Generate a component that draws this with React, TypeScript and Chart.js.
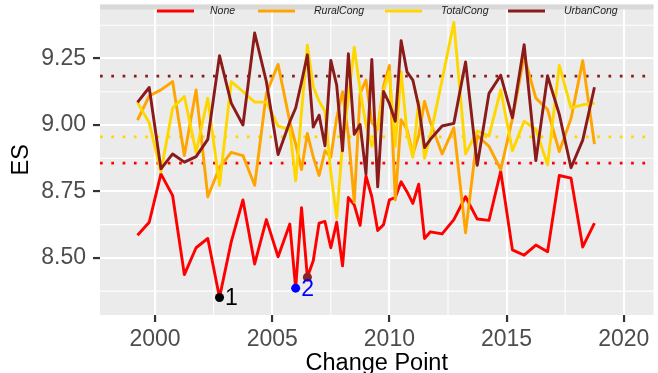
import React, { useEffect, useRef } from "react";
import { Chart, registerables } from "chart.js";

Chart.register(...registerables);

// ---------- data ----------
const xYears = [
  1999.25, 1999.75, 2000.25, 2000.75, 2001.25, 2001.75, 2002.25, 2002.75, 2003.25, 2003.75, 2004.25, 2004.75, 2005.25, 2005.75,
  2006.0, 2006.25, 2006.5, 2006.75, 2007.0, 2007.25, 2007.5, 2007.75, 2008.0, 2008.25, 2008.5, 2008.75, 2009.0, 2009.25,
  2009.5, 2009.75, 2010.0, 2010.25, 2010.5, 2010.75, 2011.0, 2011.25, 2011.5, 2011.75,
  2012.25, 2012.75, 2013.25, 2013.75, 2014.25, 2014.75, 2015.25, 2015.75, 2016.25, 2016.75, 2017.25, 2017.75, 2018.25, 2018.75,
];

const noneES = [
  8.585, 8.634, 8.816, 8.734, 8.437, 8.538, 8.573, 8.351, 8.56, 8.718, 8.477, 8.644, 8.504, 8.627,
  8.386, 8.689, 8.427, 8.489, 8.631, 8.637, 8.538, 8.634, 8.47, 8.727, 8.699, 8.622, 8.808, 8.73,
  8.603, 8.625, 8.718, 8.727, 8.786, 8.749, 8.705, 8.777, 8.573, 8.598,
  8.59, 8.644, 8.73, 8.646, 8.641, 8.826, 8.53, 8.51, 8.548, 8.523, 8.81, 8.8, 8.541, 8.631,
];

const ruralES = [
  9.018, 9.109, 9.132, 9.163, 8.885, 9.132, 8.73, 8.84, 8.897, 8.885, 8.773, 9.119, 9.228, 9.012,
  8.928, 8.832, 8.968, 8.88, 8.81, 8.903, 8.878, 9.027, 9.125, 8.96, 8.71, 9.119, 9.169, 9.008,
  8.983, 9.147, 9.224, 8.718, 9.02, 8.983, 8.89, 8.96, 9.089, 9.01,
  8.891, 8.99, 8.594, 8.96, 8.92, 8.832, 9.024, 9.258, 9.101, 9.058, 8.9, 9.024, 9.242, 8.928,
];

const totalES = [
  9.085, 9.008, 8.823, 9.064, 9.107, 8.897, 9.101, 8.773, 9.163, 9.126, 9.086, 9.086, 8.996, 8.983,
  8.79, 9.05, 9.3, 9.144, 9.089, 9.052, 8.82, 8.65, 8.93, 9.1, 9.293, 9.132, 9.0, 8.92,
  8.99, 9.13, 9.2, 8.92, 9.2, 8.971, 8.878, 9.089, 8.875, 8.959,
  9.17, 9.386, 8.891, 8.977, 8.959, 9.132, 8.903, 9.014, 8.983, 8.85, 9.224, 9.064, 9.076, 9.082,
];

const urbanES = [
  9.085, 9.141, 8.835, 8.891, 8.86, 8.881, 8.946, 9.261, 9.082, 9.0, 9.346, 9.163, 8.889, 9.012,
  9.064, 9.161, 9.264, 8.992, 9.037, 8.922, 9.243, 9.15, 8.903, 9.268, 8.965, 9.002, 8.816, 9.247,
  8.767, 9.126, 9.08, 9.014, 9.317, 9.2, 9.169, 9.07, 8.915, 8.946,
  8.996, 9.006, 9.237, 8.848, 9.119, 9.187, 9.027, 9.302, 8.866, 9.185, 9.04, 8.839, 8.943, 9.142,
];

const seriesNames = ["None", "RuralCong", "TotalCong", "UrbanCong"];
const seriesColors = ["#FF0000", "#FFA500", "#FFD700", "#8B1A1A"];
const seriesValues = [noneES, ruralES, totalES, urbanES];

// dotted reference levels
const refNames = ["UrbanCong", "TotalCong", "None"];
const refLevels = [9.184, 8.9555, 8.8565];
const refColors = ["#8B1A1A", "#FFD700", "#FF0000"];

// change points
const cpX = [2002.75, 2006.0, 2006.5];
const cpY = [8.351, 8.386, 8.427];
const cpLabels = ["1", "2", ""];
const cpColors = ["#000000", "#0000FF", "#8B2323"];

const xTicks = [2000, 2005, 2010, 2015, 2020];
const xMinorTicks = [1997.5, 2002.5, 2007.5, 2012.5, 2017.5];
const yTicks = [8.5, 8.75, 9.0, 9.25];
const yMinorTicks = [8.375, 8.625, 8.875, 9.125, 9.375];

const X_MIN = 1997.65;
const X_MAX = 2021.27;
const Y_MIN = 8.285;
const Y_MAX = 9.4533;

const FONT = '"Liberation Sans", Arial, Helvetica, sans-serif';

const ggPlugin = {
  id: "ggDecor",
  beforeDraw(chart: any) {
    const { ctx, chartArea, scales } = chart;
    const { left, right, top, bottom } = chartArea;
    ctx.save();
    ctx.fillStyle = "#EBEBEB";
    ctx.fillRect(left, top, right - left, bottom - top);
    ctx.strokeStyle = "#FFFFFF";
    ctx.lineWidth = 1.1;
    xMinorTicks.forEach((v) => {
      if (v < X_MIN || v > X_MAX) return;
      const px = scales.x.getPixelForValue(v);
      ctx.beginPath();
      ctx.moveTo(px, top);
      ctx.lineTo(px, bottom);
      ctx.stroke();
    });
    yMinorTicks.forEach((v) => {
      if (v < Y_MIN || v > Y_MAX) return;
      const py = scales.y.getPixelForValue(v);
      ctx.beginPath();
      ctx.moveTo(left, py);
      ctx.lineTo(right, py);
      ctx.stroke();
    });
    ctx.restore();
  },
  afterDraw(chart: any) {
    const { ctx, chartArea, scales } = chart;
    const { left, right, top, bottom } = chartArea;
    ctx.save();
    // top strip
    ctx.fillStyle = "#D9D9D9";
    ctx.fillRect(left, top, right - left, 5);

    // legend (inside panel, top)
    const keyX = [157, 258, 385, 508];
    const textX = [210, 314, 441, 564];
    const ly = 11;
    ctx.lineWidth = 3;
    ctx.font = `italic 10.5px ${FONT}`;
    ctx.textBaseline = "middle";
    ctx.textAlign = "left";
    seriesNames.forEach((name, i) => {
      ctx.strokeStyle = seriesColors[i];
      ctx.beginPath();
      ctx.moveTo(keyX[i], ly);
      ctx.lineTo(keyX[i] + 37, ly);
      ctx.stroke();
      ctx.fillStyle = "#222222";
      ctx.fillText(name, textX[i], ly);
    });

    // change point labels
    ctx.font = `23px ${FONT}`;
    cpX.forEach((xv, i) => {
      if (!cpLabels[i]) return;
      const px = scales.x.getPixelForValue(xv);
      const py = scales.y.getPixelForValue(cpY[i]);
      ctx.fillStyle = cpColors[i];
      ctx.textAlign = "left";
      ctx.textBaseline = "middle";
      ctx.fillText(cpLabels[i], px + 5.5, py + 1.5);
    });

    // axis titles
    ctx.fillStyle = "#000000";
    ctx.font = `23.5px ${FONT}`;
    ctx.textAlign = "center";
    ctx.textBaseline = "alphabetic";
    ctx.fillText("Change Point", (left + right) / 2, 370);
    ctx.translate(28, (top + bottom) / 2);
    ctx.rotate(-Math.PI / 2);
    ctx.fillText("ES", 0, 0);
    ctx.restore();
  },
};

export default function App() {
  const canvasRef = useRef<HTMLCanvasElement | null>(null);

  useEffect(() => {
    if (!canvasRef.current) return;

    const lineSets = seriesNames.map((name, i) => ({
      label: name,
      data: xYears.map((xv, j) => ({ x: xv, y: seriesValues[i][j] })),
      borderColor: seriesColors[i],
      borderWidth: 2.9,
      borderJoinStyle: "round" as const,
      pointRadius: 0,
      fill: false,
      tension: 0,
      order: 4 - i + 1,
    }));

    const refSets = refLevels.map((lvl, i) => ({
      label: "ref " + refNames[i],
      data: [
        { x: X_MIN, y: lvl },
        { x: X_MAX, y: lvl },
      ],
      borderColor: refColors[i],
      borderWidth: 2.7,
      borderDash: [2.7, 8.6],
      borderCapStyle: "butt" as const,
      pointRadius: 0,
      fill: false,
      order: 10 + i,
    }));

    const pointSet = {
      label: "change points",
      data: cpX.map((xv, i) => ({ x: xv, y: cpY[i] })),
      showLine: false,
      pointRadius: 4.5,
      pointBackgroundColor: cpColors,
      pointBorderColor: cpColors,
      pointBorderWidth: 0,
      order: 0,
    };

    const zeroPad = (s: any) => {
      s.paddingTop = 0;
      s.paddingBottom = 0;
      s.paddingLeft = 0;
      s.paddingRight = 0;
    };

    const chart = new Chart(canvasRef.current, {
      type: "line",
      data: { datasets: [...lineSets, ...refSets, pointSet] as any },
      options: {
        responsive: false,
        animation: false,
        devicePixelRatio: 1,
        layout: { padding: 0 },
        plugins: {
          legend: { display: false },
          tooltip: { enabled: false },
        },
        scales: {
          x: {
            type: "linear",
            min: X_MIN,
            max: X_MAX,
            afterBuildTicks: (s: any) => {
              s.ticks = xTicks.map((v) => ({ value: v }));
            },
            afterFit: (s: any) => {
              s.height = 58;
              zeroPad(s);
            },
            border: { display: false },
            grid: {
              color: "#FFFFFF",
              lineWidth: 2.1,
              tickColor: "#333333",
              tickLength: 7,
              tickWidth: 2.2,
            },
            ticks: {
              autoSkip: false,
              maxRotation: 0,
              color: "#4D4D4D",
              padding: 4,
              font: { family: FONT, size: 23 },
              callback: (v: any) => String(v),
            },
          },
          y: {
            type: "linear",
            min: Y_MIN,
            max: Y_MAX,
            afterBuildTicks: (s: any) => {
              s.ticks = yTicks.map((v) => ({ value: v }));
            },
            afterFit: (s: any) => {
              s.width = 100;
              zeroPad(s);
            },
            border: { display: false },
            grid: {
              color: "#FFFFFF",
              lineWidth: 2.1,
              tickColor: "#333333",
              tickLength: 7,
              tickWidth: 2.2,
            },
            ticks: {
              autoSkip: false,
              color: "#4D4D4D",
              padding: 7,
              font: { family: FONT, size: 23 },
              callback: (v: any) => Number(v).toFixed(2),
            },
          },
        },
      },
      plugins: [ggPlugin],
    });

    return () => chart.destroy();
  }, []);

  return (
    <div style={{ position: "fixed", left: 0, top: 0, width: 658, height: 373, background: "#FFFFFF" }}>
      <canvas ref={canvasRef} width={658} height={373} style={{ display: "block" }} />
    </div>
  );
}
